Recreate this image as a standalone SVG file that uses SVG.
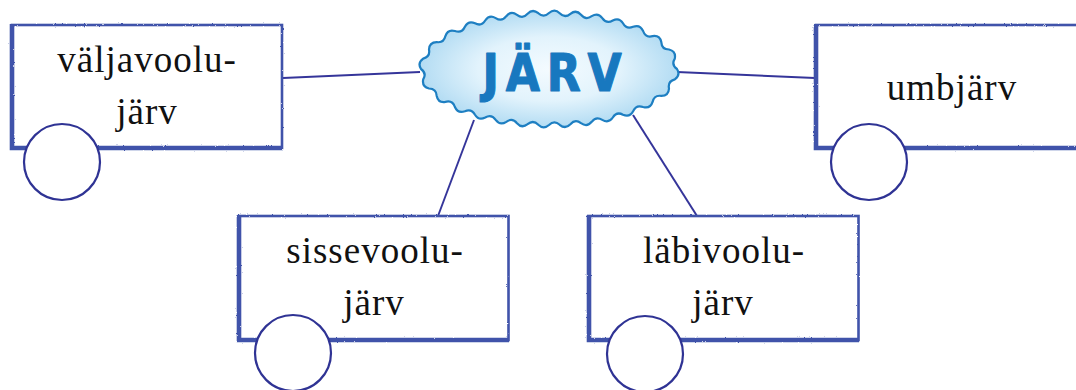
<svg xmlns="http://www.w3.org/2000/svg" width="1076" height="390" viewBox="0 0 1076 390">
<defs>
<style>
.conn{stroke:#35359a;stroke-width:2;fill:none}
.thin{fill:#fff;stroke:#4053aa;stroke-width:2.6}
.thick{fill:none;stroke:#4053aa;stroke-width:4.6;stroke-linejoin:miter}
.ring{fill:#fff;stroke:#2f3394;stroke-width:2.2}
.lbl{font-family:"Liberation Serif",serif;font-size:37px;letter-spacing:1px;fill:#111;text-anchor:middle}
.title{font-family:"DejaVu Sans",sans-serif;font-weight:bold;font-size:52px;letter-spacing:8px;fill:#1878bf;stroke:#1878bf;stroke-width:1.2;stroke-linejoin:round;text-anchor:middle}
</style>
<radialGradient id="cloudFill" cx="50%" cy="50%" r="50%">
<stop offset="0" stop-color="#f4fbff"/>
<stop offset="0.55" stop-color="#e2f3fc"/>
<stop offset="1" stop-color="#b3dcf3"/>
</radialGradient>
<filter id="rough" x="-5%" y="-10%" width="110%" height="120%">
<feTurbulence type="fractalNoise" baseFrequency="0.9" numOctaves="2" seed="4" result="n"/>
<feDisplacementMap in="SourceGraphic" in2="n" scale="2" xChannelSelector="R" yChannelSelector="G"/>
</filter>
</defs>
<rect width="1076" height="390" fill="#fff"/>
<g id="connectors">
<line class="conn" x1="283" y1="78" x2="420" y2="72"/>
<line class="conn" x1="677" y1="72" x2="815" y2="78"/>
<line class="conn" x1="474" y1="120" x2="438" y2="216"/>
<line class="conn" x1="633" y1="115" x2="697" y2="216"/>
</g>
<g id="node-valjavoolujarv">
<g filter="url(#rough)">
<rect class="thin" x="12" y="25" width="270" height="123"/>
<polyline class="thick" points="12,24 12,148 283,148"/>
</g>
<text class="lbl" x="147" y="72">väljavoolu-</text>
<text class="lbl" x="147" y="124">järv</text>
<circle class="ring" cx="62" cy="162" r="38"/>
</g>
<g id="node-umbjarv">
<g filter="url(#rough)">
<rect class="thin" x="816" y="25" width="280" height="123"/>
<polyline class="thick" points="816,24 816,148 1096,148"/>
</g>
<text class="lbl" x="952" y="100">umbjärv</text>
<circle class="ring" cx="869" cy="162" r="38"/>
</g>
<g id="node-sissevoolujarv">
<g filter="url(#rough)">
<rect class="thin" x="239" y="216" width="269.5" height="124"/>
<polyline class="thick" points="239,215 239,340 509,340"/>
</g>
<text class="lbl" x="375" y="263">sissevoolu-</text>
<text class="lbl" x="374" y="315">järv</text>
<circle class="ring" cx="293" cy="353" r="38"/>
</g>
<g id="node-labivoolujarv">
<g filter="url(#rough)">
<rect class="thin" x="589" y="216" width="269.5" height="124"/>
<polyline class="thick" points="589,215 589,340 859,340"/>
</g>
<text class="lbl" x="724" y="263">läbivoolu-</text>
<text class="lbl" x="723" y="315">järv</text>
<circle class="ring" cx="645" cy="354" r="38"/>
</g>
<g id="node-jarv">
<path fill="url(#cloudFill)" stroke="#1e7fc2" stroke-width="2.2" d="M677,69 Q680.8,75.2 674.8,79.4 Q667.6,81.3 669.0,88.5 Q668.7,95.8 661.3,95.9 Q654.2,94.8 652.6,101.9 Q650.3,109.0 643.1,107.0 Q636.1,104.4 633.1,111.2 Q629.7,117.7 623.0,114.7 Q616.6,111.3 612.8,117.5 Q608.7,123.6 602.3,119.9 Q596.1,115.9 591.7,121.8 Q587.1,127.5 581.0,123.2 Q575.2,118.7 570.4,124.2 Q565.4,129.5 559.7,124.8 Q554.3,119.9 549,125 Q543.5,129.9 538.3,124.8 Q533.2,119.5 527.6,124.2 Q521.8,128.7 517.0,123.2 Q512.3,117.5 506.3,121.8 Q500.1,125.9 495.7,119.9 Q491.5,113.8 485.2,117.5 Q478.8,120.9 475.0,114.7 Q471.5,108.3 464.9,111.2 Q457.9,113.8 454.9,107.0 Q452.5,100.0 445.4,101.9 Q438.2,103.0 436.7,95.9 Q436.3,88.6 429.0,88.5 Q421.8,86.7 423.2,79.4 Q427.0,73.2 421,69 Q417.2,62.8 423.2,58.6 Q430.4,56.7 429.0,49.5 Q429.3,42.2 436.7,42.1 Q443.8,43.2 445.4,36.1 Q447.7,29.0 454.9,31.0 Q461.9,33.6 464.9,26.8 Q468.3,20.3 475.0,23.3 Q481.4,26.7 485.2,20.5 Q489.3,14.4 495.7,18.1 Q501.9,22.1 506.3,16.2 Q510.9,10.5 517.0,14.8 Q522.8,19.3 527.6,13.8 Q532.6,8.5 538.3,13.2 Q543.7,18.1 549,13 Q554.5,8.1 559.7,13.2 Q564.8,18.5 570.4,13.8 Q576.2,9.3 581.0,14.8 Q585.7,20.5 591.7,16.2 Q597.9,12.1 602.3,18.1 Q606.5,24.2 612.8,20.5 Q619.2,17.1 623.0,23.3 Q626.5,29.7 633.1,26.8 Q640.1,24.2 643.1,31.0 Q645.5,38.0 652.6,36.1 Q659.8,35.0 661.3,42.1 Q661.7,49.4 669.0,49.5 Q676.2,51.3 674.8,58.6 Q671.0,64.8 677,69 Z"/>
<text class="title" transform="scale(0.85,1)" x="653.5" y="91">JÄRV</text>
</g>
</svg>
